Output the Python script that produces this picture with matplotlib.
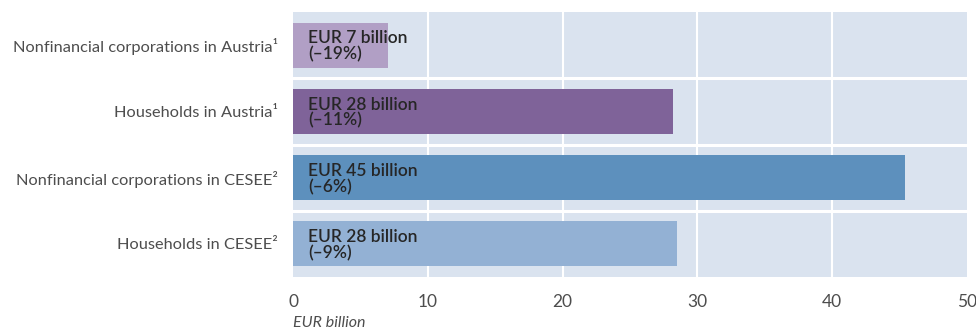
import matplotlib.pyplot as plt

plt.rcParams['font.family'] = ['Lato', 'DejaVu Sans']

categories = ['Nonfinancial corporations in Austria\u00b9',
              'Households in Austria\u00b9',
              'Nonfinancial corporations in CESEE\u00b2',
              'Households in CESEE\u00b2']
volumes = [7.05, 28.2, 45.4, 28.5]      # EUR billion
changes = [-19, -11, -6, -9]            # % change
colors = ['#b19fc5', '#7f6399', '#5d90bd', '#93b1d4']

fig = plt.figure(figsize=(9.76, 3.29), dpi=100)
ax = fig.add_axes([0.3005, 0.158, 0.6900, 0.8055])
ax.set_facecolor('#dae3ef')

ypos = list(range(len(categories)))
ax.barh(ypos, volumes, height=0.68, color=colors, zorder=3)

for y, v, c in zip(ypos, volumes, changes):
    ax.text(1.1, y + 0.02, 'EUR %.0f billion\n(\u2013%d%%)' % (v, abs(c)),
            va='center', ha='left', fontsize=12.5, color='#262626',
            fontweight='semibold', linespacing=1.0, zorder=4)

ax.set_ylim(3.5, -0.5)
ax.set_xlim(0, 50)
ax.set_xticks([0, 10, 20, 30, 40, 50])
ax.set_yticks(ypos)
ax.set_yticklabels(categories)

# white grid: vertical at ticks, horizontal between categories
for x in [10, 20, 30, 40]:
    ax.axvline(x, color='white', lw=1.5, zorder=1)
for y in [0.5, 1.5, 2.5]:
    ax.axhline(y, color='white', lw=2.2, zorder=2)

for s in ax.spines.values():
    s.set_visible(False)
ax.tick_params(axis='y', length=0, pad=11, labelsize=11.8, labelcolor='#4d4d4d')
ax.tick_params(axis='x', length=0, pad=12, labelsize=12.5, labelcolor='#4d4d4d')

fig.text(0.3005, -0.003, 'EUR billion', fontsize=11.5, style='italic',
         color='#4d4d4d', ha='left', va='bottom')

fig.savefig('out.png', dpi=100)
